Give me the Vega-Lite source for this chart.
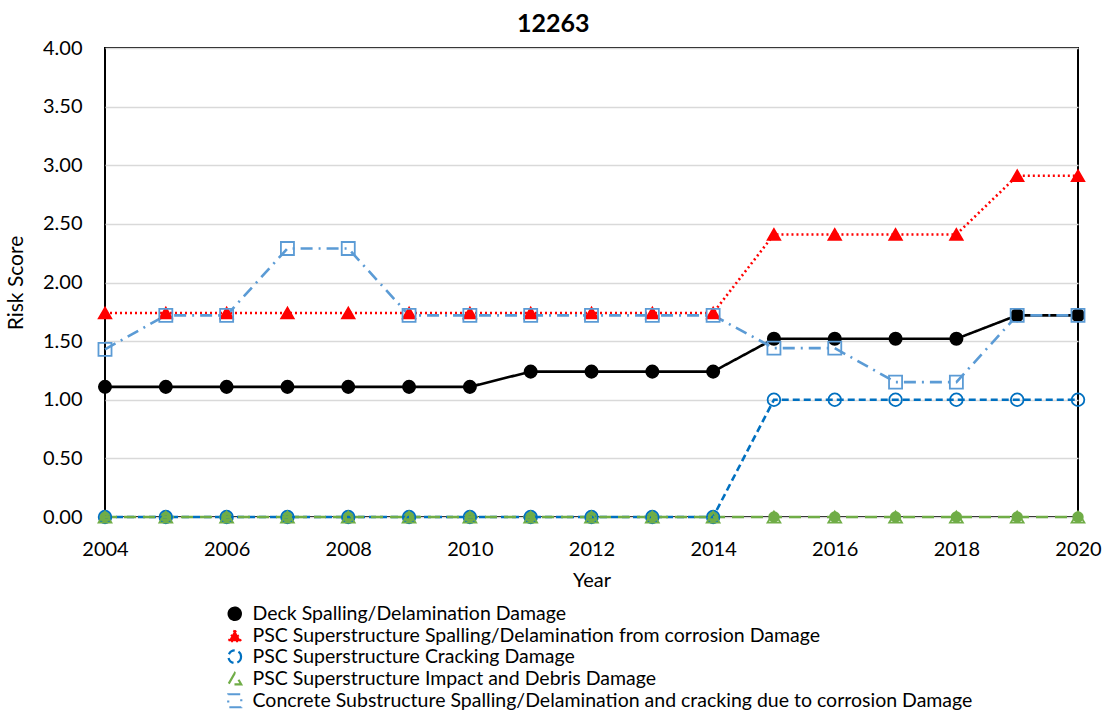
{
  "$schema": "https://vega.github.io/schema/vega-lite/v6.json",
  "autosize": "none",
  "width": 973,
  "height": 469,
  "padding": {"left": 105, "top": 48, "right": 33, "bottom": 202},
  "background": "white",
  "title": {"text": "12263", "anchor": "middle", "frame": "bounds", "fontSize": 25, "fontWeight": "bold", "font": "Lato", "color": "#000000", "offset": 1},
  "config": {
    "font": "Lato",
    "view": {"stroke": "#000000", "strokeWidth": 2},
    "axis": {"labelFont": "Lato", "titleFont": "Lato", "labelColor": "#000000", "titleColor": "#000000", "titleFontWeight": "normal"}
  },
  "datasets": {
    "main": [
      {"year": 2004, "series": "Deck Spalling/Delamination Damage", "value": 1.11},
      {"year": 2005, "series": "Deck Spalling/Delamination Damage", "value": 1.11},
      {"year": 2006, "series": "Deck Spalling/Delamination Damage", "value": 1.11},
      {"year": 2007, "series": "Deck Spalling/Delamination Damage", "value": 1.11},
      {"year": 2008, "series": "Deck Spalling/Delamination Damage", "value": 1.11},
      {"year": 2009, "series": "Deck Spalling/Delamination Damage", "value": 1.11},
      {"year": 2010, "series": "Deck Spalling/Delamination Damage", "value": 1.11},
      {"year": 2011, "series": "Deck Spalling/Delamination Damage", "value": 1.24},
      {"year": 2012, "series": "Deck Spalling/Delamination Damage", "value": 1.24},
      {"year": 2013, "series": "Deck Spalling/Delamination Damage", "value": 1.24},
      {"year": 2014, "series": "Deck Spalling/Delamination Damage", "value": 1.24},
      {"year": 2015, "series": "Deck Spalling/Delamination Damage", "value": 1.52},
      {"year": 2016, "series": "Deck Spalling/Delamination Damage", "value": 1.52},
      {"year": 2017, "series": "Deck Spalling/Delamination Damage", "value": 1.52},
      {"year": 2018, "series": "Deck Spalling/Delamination Damage", "value": 1.52},
      {"year": 2019, "series": "Deck Spalling/Delamination Damage", "value": 1.72},
      {"year": 2020, "series": "Deck Spalling/Delamination Damage", "value": 1.72},
      {"year": 2004, "series": "PSC Superstructure Spalling/Delamination from corrosion Damage", "value": 1.74},
      {"year": 2005, "series": "PSC Superstructure Spalling/Delamination from corrosion Damage", "value": 1.74},
      {"year": 2006, "series": "PSC Superstructure Spalling/Delamination from corrosion Damage", "value": 1.74},
      {"year": 2007, "series": "PSC Superstructure Spalling/Delamination from corrosion Damage", "value": 1.74},
      {"year": 2008, "series": "PSC Superstructure Spalling/Delamination from corrosion Damage", "value": 1.74},
      {"year": 2009, "series": "PSC Superstructure Spalling/Delamination from corrosion Damage", "value": 1.74},
      {"year": 2010, "series": "PSC Superstructure Spalling/Delamination from corrosion Damage", "value": 1.74},
      {"year": 2011, "series": "PSC Superstructure Spalling/Delamination from corrosion Damage", "value": 1.74},
      {"year": 2012, "series": "PSC Superstructure Spalling/Delamination from corrosion Damage", "value": 1.74},
      {"year": 2013, "series": "PSC Superstructure Spalling/Delamination from corrosion Damage", "value": 1.74},
      {"year": 2014, "series": "PSC Superstructure Spalling/Delamination from corrosion Damage", "value": 1.74},
      {"year": 2015, "series": "PSC Superstructure Spalling/Delamination from corrosion Damage", "value": 2.41},
      {"year": 2016, "series": "PSC Superstructure Spalling/Delamination from corrosion Damage", "value": 2.41},
      {"year": 2017, "series": "PSC Superstructure Spalling/Delamination from corrosion Damage", "value": 2.41},
      {"year": 2018, "series": "PSC Superstructure Spalling/Delamination from corrosion Damage", "value": 2.41},
      {"year": 2019, "series": "PSC Superstructure Spalling/Delamination from corrosion Damage", "value": 2.91},
      {"year": 2020, "series": "PSC Superstructure Spalling/Delamination from corrosion Damage", "value": 2.91},
      {"year": 2004, "series": "PSC Superstructure Cracking Damage", "value": 0},
      {"year": 2005, "series": "PSC Superstructure Cracking Damage", "value": 0},
      {"year": 2006, "series": "PSC Superstructure Cracking Damage", "value": 0},
      {"year": 2007, "series": "PSC Superstructure Cracking Damage", "value": 0},
      {"year": 2008, "series": "PSC Superstructure Cracking Damage", "value": 0},
      {"year": 2009, "series": "PSC Superstructure Cracking Damage", "value": 0},
      {"year": 2010, "series": "PSC Superstructure Cracking Damage", "value": 0},
      {"year": 2011, "series": "PSC Superstructure Cracking Damage", "value": 0},
      {"year": 2012, "series": "PSC Superstructure Cracking Damage", "value": 0},
      {"year": 2013, "series": "PSC Superstructure Cracking Damage", "value": 0},
      {"year": 2014, "series": "PSC Superstructure Cracking Damage", "value": 0},
      {"year": 2015, "series": "PSC Superstructure Cracking Damage", "value": 1.0},
      {"year": 2016, "series": "PSC Superstructure Cracking Damage", "value": 1.0},
      {"year": 2017, "series": "PSC Superstructure Cracking Damage", "value": 1.0},
      {"year": 2018, "series": "PSC Superstructure Cracking Damage", "value": 1.0},
      {"year": 2019, "series": "PSC Superstructure Cracking Damage", "value": 1.0},
      {"year": 2020, "series": "PSC Superstructure Cracking Damage", "value": 1.0},
      {"year": 2004, "series": "PSC Superstructure Impact and Debris Damage", "value": 0},
      {"year": 2005, "series": "PSC Superstructure Impact and Debris Damage", "value": 0},
      {"year": 2006, "series": "PSC Superstructure Impact and Debris Damage", "value": 0},
      {"year": 2007, "series": "PSC Superstructure Impact and Debris Damage", "value": 0},
      {"year": 2008, "series": "PSC Superstructure Impact and Debris Damage", "value": 0},
      {"year": 2009, "series": "PSC Superstructure Impact and Debris Damage", "value": 0},
      {"year": 2010, "series": "PSC Superstructure Impact and Debris Damage", "value": 0},
      {"year": 2011, "series": "PSC Superstructure Impact and Debris Damage", "value": 0},
      {"year": 2012, "series": "PSC Superstructure Impact and Debris Damage", "value": 0},
      {"year": 2013, "series": "PSC Superstructure Impact and Debris Damage", "value": 0},
      {"year": 2014, "series": "PSC Superstructure Impact and Debris Damage", "value": 0},
      {"year": 2015, "series": "PSC Superstructure Impact and Debris Damage", "value": 0},
      {"year": 2016, "series": "PSC Superstructure Impact and Debris Damage", "value": 0},
      {"year": 2017, "series": "PSC Superstructure Impact and Debris Damage", "value": 0},
      {"year": 2018, "series": "PSC Superstructure Impact and Debris Damage", "value": 0},
      {"year": 2019, "series": "PSC Superstructure Impact and Debris Damage", "value": 0},
      {"year": 2020, "series": "PSC Superstructure Impact and Debris Damage", "value": 0},
      {"year": 2004, "series": "Concrete Substructure Spalling/Delamination and cracking due to corrosion Damage", "value": 1.43},
      {"year": 2005, "series": "Concrete Substructure Spalling/Delamination and cracking due to corrosion Damage", "value": 1.72},
      {"year": 2006, "series": "Concrete Substructure Spalling/Delamination and cracking due to corrosion Damage", "value": 1.72},
      {"year": 2007, "series": "Concrete Substructure Spalling/Delamination and cracking due to corrosion Damage", "value": 2.29},
      {"year": 2008, "series": "Concrete Substructure Spalling/Delamination and cracking due to corrosion Damage", "value": 2.29},
      {"year": 2009, "series": "Concrete Substructure Spalling/Delamination and cracking due to corrosion Damage", "value": 1.72},
      {"year": 2010, "series": "Concrete Substructure Spalling/Delamination and cracking due to corrosion Damage", "value": 1.72},
      {"year": 2011, "series": "Concrete Substructure Spalling/Delamination and cracking due to corrosion Damage", "value": 1.72},
      {"year": 2012, "series": "Concrete Substructure Spalling/Delamination and cracking due to corrosion Damage", "value": 1.72},
      {"year": 2013, "series": "Concrete Substructure Spalling/Delamination and cracking due to corrosion Damage", "value": 1.72},
      {"year": 2014, "series": "Concrete Substructure Spalling/Delamination and cracking due to corrosion Damage", "value": 1.72},
      {"year": 2015, "series": "Concrete Substructure Spalling/Delamination and cracking due to corrosion Damage", "value": 1.44},
      {"year": 2016, "series": "Concrete Substructure Spalling/Delamination and cracking due to corrosion Damage", "value": 1.44},
      {"year": 2017, "series": "Concrete Substructure Spalling/Delamination and cracking due to corrosion Damage", "value": 1.15},
      {"year": 2018, "series": "Concrete Substructure Spalling/Delamination and cracking due to corrosion Damage", "value": 1.15},
      {"year": 2019, "series": "Concrete Substructure Spalling/Delamination and cracking due to corrosion Damage", "value": 1.72},
      {"year": 2020, "series": "Concrete Substructure Spalling/Delamination and cracking due to corrosion Damage", "value": 1.72}
    ],
    "dots": [
      {"year": 2004, "value": 0}, {"year": 2005, "value": 0}, {"year": 2006, "value": 0},
      {"year": 2007, "value": 0}, {"year": 2008, "value": 0}, {"year": 2009, "value": 0},
      {"year": 2010, "value": 0}, {"year": 2011, "value": 0}, {"year": 2012, "value": 0},
      {"year": 2013, "value": 0}, {"year": 2014, "value": 0}, {"year": 2015, "value": 0},
      {"year": 2016, "value": 0}, {"year": 2017, "value": 0}, {"year": 2018, "value": 0},
      {"year": 2019, "value": 0}, {"year": 2020, "value": 0}
    ]
  },
  "encoding": {
    "x": {
      "field": "year", "type": "quantitative",
      "scale": {"domain": [2004, 2020], "nice": false, "zero": false},
      "axis": {"title": "Year", "values": [2004, 2006, 2008, 2010, 2012, 2014, 2016, 2018, 2020], "format": "d", "grid": false, "ticks": false, "domain": false, "labelFontSize": 20, "titleFontSize": 20, "labelPadding": 22, "titlePadding": 11, "labelFlush": false}
    },
    "y": {
      "field": "value", "type": "quantitative",
      "scale": {"domain": [0, 4], "nice": false},
      "axis": {"title": "Risk Score", "values": [0, 0.5, 1, 1.5, 2, 2.5, 3, 3.5, 4], "format": ".2f", "grid": true, "gridColor": "#d9d9d9", "gridWidth": 1.5, "ticks": false, "domain": false, "labelFontSize": 20, "titleFontSize": 21, "labelPadding": 23, "titlePadding": 16, "labelFlush": false}
    }
  },
  "layer": [
    {
      "data": {"name": "dots"},
      "mark": {"type": "point", "shape": "circle", "filled": true, "color": "#70AD47", "opacity": 1, "size": 130}
    },
    {
      "data": {"name": "main"},
      "mark": {"type": "line", "strokeWidth": 2.6},
      "encoding": {
        "stroke": {"field": "series", "type": "nominal",
          "scale": {"domain": ["Deck Spalling/Delamination Damage", "PSC Superstructure Spalling/Delamination from corrosion Damage", "PSC Superstructure Cracking Damage", "PSC Superstructure Impact and Debris Damage", "Concrete Substructure Spalling/Delamination and cracking due to corrosion Damage"],
            "range": ["#000000", "#FF0000", "#0070C0", "#70AD47", "#5B9BD5"]},
          "legend": {"title": null, "orient": "bottom", "offset": 14, "direction": "vertical", "labelFont": "Lato", "labelFontSize": 19.5, "labelLimit": 1000, "labelColor": "#000000", "symbolSize": 150, "symbolStrokeWidth": 2.2, "symbolOffset": 120, "rowPadding": 0, "labelOffset": 8}},
        "strokeDash": {"field": "series", "type": "nominal",
          "scale": {"domain": ["Deck Spalling/Delamination Damage", "PSC Superstructure Spalling/Delamination from corrosion Damage", "PSC Superstructure Cracking Damage", "PSC Superstructure Impact and Debris Damage", "Concrete Substructure Spalling/Delamination and cracking due to corrosion Damage"],
            "range": [[1, 0], [2, 3], [7, 4], [12, 7], [12, 6, 2, 6]]}}
      }
    },
    {
      "data": {"name": "main"},
      "mark": {"type": "point", "opacity": 1, "strokeWidth": 1.8},
      "encoding": {
        "stroke": {"field": "series", "type": "nominal"},
        "fill": {"field": "series", "type": "nominal",
          "scale": {"domain": ["Deck Spalling/Delamination Damage", "PSC Superstructure Spalling/Delamination from corrosion Damage", "PSC Superstructure Cracking Damage", "PSC Superstructure Impact and Debris Damage", "Concrete Substructure Spalling/Delamination and cracking due to corrosion Damage"],
            "range": ["#000000", "#FF0000", "transparent", "transparent", "transparent"]}},
        "shape": {"field": "series", "type": "nominal",
          "scale": {"domain": ["Deck Spalling/Delamination Damage", "PSC Superstructure Spalling/Delamination from corrosion Damage", "PSC Superstructure Cracking Damage", "PSC Superstructure Impact and Debris Damage", "Concrete Substructure Spalling/Delamination and cracking due to corrosion Damage"],
            "range": ["circle", "triangle-up", "circle", "triangle-up", "square"]}},
        "size": {"field": "series", "type": "nominal",
          "scale": {"domain": ["Deck Spalling/Delamination Damage", "PSC Superstructure Spalling/Delamination from corrosion Damage", "PSC Superstructure Cracking Damage", "PSC Superstructure Impact and Debris Damage", "Concrete Substructure Spalling/Delamination and cracking due to corrosion Damage"],
            "range": [150, 170, 130, 110, 130]},
          "legend": null}
      }
    }
  ]
}
